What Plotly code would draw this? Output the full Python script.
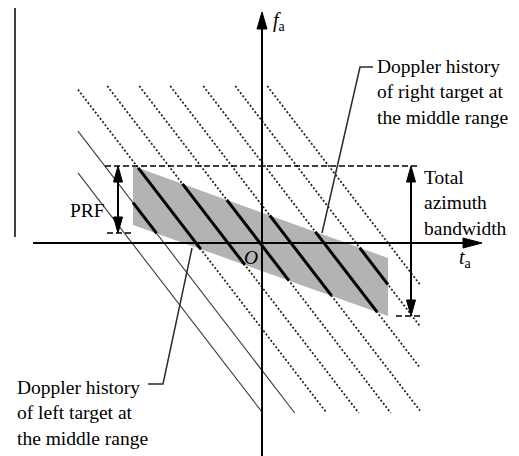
import numpy as np
import plotly.graph_objects as go

# ---- time-frequency description (t_a horizontal, f_a vertical, origin O) ----
slope_k = 1.3                                   # Doppler rate: f_a = -k (t_a - t0)
history_t0 = [-130, -98, -66, -34, -2, 29, 62, 94, 126]   # aliased Doppler histories
solid_t0 = [-130, -98]                          # drawn as thin solid lines
plane_t = [-184, 158]                           # extent of the history lines
plane_f = [-170, 157]

# shaded azimuth spectrum support (corners: top-left, top-right, bottom-right, bottom-left)
band_t = [-129, 126, 126, -129]
band_f = [77, -15, -73, 18]

bw_top = 77            # upper edge of total azimuth bandwidth
bw_bottom = -73        # lower edge of total azimuth bandwidth
prf = 67               # pulse repetition frequency span
prf_t = -144           # where the PRF span is marked
bw_t = 149             # where the total bandwidth is marked

axis_t = [-229, 220]   # horizontal axis extent
axis_f = [-213, 231]   # vertical axis extent
frame_t = -247
frame_f = [6, 235]

# leader lines for the two callouts
right_leader_t = [111, 98, 60]
right_leader_f = [176, 176, 10]
left_leader_t = [-114, -99, -70]
left_leader_f = [-141, -141, -5]

xr = [-262, 257]
yr = [-213, 243]

fig = go.Figure()


def add_line(ts, fs, color="black", width=1.5, dash="solid"):
    fig.add_trace(go.Scatter(x=ts, y=fs, mode="lines", hoverinfo="skip",
                             line=dict(color=color, width=width, dash=dash)))


def add_head(tip_t, tip_f, dt, df, length, width):
    """Filled triangular arrow head pointing along (dt, df)."""
    n = np.hypot(dt, df)
    ux, uy = dt / n, df / n
    px, py = -uy, ux
    bt, bf = tip_t - ux * length, tip_f - uy * length
    ts = [tip_t, bt + px * width / 2, bt - px * width / 2, tip_t]
    fs = [tip_f, bf + py * width / 2, bf - py * width / 2, tip_f]
    fig.add_trace(go.Scatter(x=ts, y=fs, mode="lines", fill="toself",
                             fillcolor="black", hoverinfo="skip",
                             line=dict(color="black", width=1)))


# ---- aliased Doppler histories across the plane ----
dot_x, dot_y, sol_x, sol_y = [], [], [], []
for t0 in history_t0:
    t_start = max(t0 - plane_f[1] / slope_k, plane_t[0])
    t_end = min(t0 - plane_f[0] / slope_k, plane_t[1])
    seg_t = [t_start, t_end, None]
    seg_f = [-slope_k * (t_start - t0), -slope_k * (t_end - t0), None]
    if t0 in solid_t0:
        sol_x += seg_t
        sol_y += seg_f
    else:
        dot_x += seg_t
        dot_y += seg_f
add_line(dot_x, dot_y, color="#1e1e1e", width=1.7, dash="2px,2px")
add_line(sol_x, sol_y, color="#3a3a3a", width=1.1)

# ---- shaded spectrum band ----
fig.add_trace(go.Scatter(x=band_t + [band_t[0]], y=band_f + [band_f[0]],
                         mode="lines", fill="toself", fillcolor="#b3b3b3",
                         line=dict(width=0, color="#b3b3b3"), hoverinfo="skip"))

# ---- histories inside the band, drawn bold ----
s_top = (band_f[1] - band_f[0]) / (band_t[1] - band_t[0])
s_bot = (band_f[2] - band_f[3]) / (band_t[2] - band_t[3])
bold_x, bold_y = [], []
for t0 in history_t0:
    t_in = (slope_k * t0 - band_f[0] + s_top * band_t[0]) / (s_top + slope_k)
    t_out = (slope_k * t0 - band_f[3] + s_bot * band_t[3]) / (s_bot + slope_k)
    a = max(t_in, band_t[0])
    b = min(t_out, band_t[1])
    if a < b:
        bold_x += [a, b, None]
        bold_y += [-slope_k * (a - t0), -slope_k * (b - t0), None]
add_line(bold_x, bold_y, color="black", width=3)

# ---- coordinate axes ----
add_line([axis_t[0], axis_t[1] - 10], [0, 0], width=2)
add_head(axis_t[1], 0, 1, 0, 19, 10)
add_line([0, 0], [axis_f[0], axis_f[1] - 10], width=2)
add_head(0, axis_f[1], 0, 1, 17, 10)
add_line([frame_t, frame_t], frame_f, width=1.5)

# ---- dashed reference levels ----
add_line([-157, 156], [bw_top, bw_top], dash="6px,3px")
add_line([prf_t - 11, prf_t + 14], [bw_top - prf, bw_top - prf], dash="6px,3px")
add_line([bw_t - 15, bw_t + 12], [bw_bottom, bw_bottom], dash="6px,3px")

# ---- PRF and total bandwidth double arrows ----
for t_mark, f_hi, f_lo in [(prf_t, bw_top, bw_top - prf), (bw_t, bw_top, bw_bottom)]:
    add_line([t_mark, t_mark], [f_hi - 10, f_lo + 10], width=2)
    add_head(t_mark, f_hi, 0, 1, 16, 9)
    add_head(t_mark, f_lo, 0, -1, 16, 9)

# ---- callout leaders ----
add_line(right_leader_t, right_leader_f, color="#2a2a2a", width=1.5)
add_line(left_leader_t, left_leader_f, color="#2a2a2a", width=1.5)

# ---- text ----
serif = "Liberation Serif"


def label(t, f, text, xanchor="left", yanchor="middle", size=19.5):
    fig.add_annotation(x=t, y=f, xref="x", yref="y", text=text, showarrow=False,
                       xanchor=xanchor, yanchor=yanchor, align="left",
                       font=dict(family=serif, size=size, color="black"))


label(113, 151, "Doppler history<br>of right target at<br>the middle range")
label(160, 40, "Total<br>azimuth<br>bandwidth")
label(-247, -170, "Doppler history<br>of left target at<br>the middle range")
label(-175, 33, "PRF", xanchor="center")
label(-11, -14, "<i>O</i>", xanchor="center")
label(9, 222, "<i>f</i><sub>a</sub>", size=20)
label(195, -15, "<i>t</i><sub>a</sub>", size=20)

fig.update_layout(
    width=519, height=456,
    margin=dict(l=0, r=0, t=0, b=0),
    paper_bgcolor="white", plot_bgcolor="white",
    showlegend=False,
    xaxis=dict(range=xr, visible=False, fixedrange=True),
    yaxis=dict(range=yr, visible=False, fixedrange=True),
    font=dict(family=serif, size=19, color="black"),
)

fig.write_html("out.html")
